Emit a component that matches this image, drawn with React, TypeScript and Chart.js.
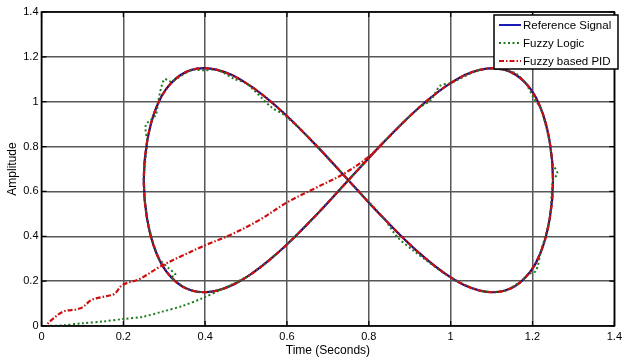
import React, { useEffect, useRef } from 'react';
import { Chart, registerables } from 'chart.js';

Chart.register(...registerables);

const seriesLabels = ['Reference Signal', 'Fuzzy Logic', 'Fuzzy based PID'];
const seriesColors = ['#0c0c8c', '#1d7a1d', '#cc1010'];
const xTickLabels = ['0', '0.2', '0.4', '0.6', '0.8', '1', '1.2', '1.4'];
const yTickLabels = ['0', '0.2', '0.4', '0.6', '0.8', '1', '1.2', '1.4'];
const xTitle = 'Time (Seconds)';
const yTitle = 'Amplitude';

// Reference signal (figure-eight)
const refX = [0.75, 0.837, 0.921, 1.0, 1.071, 1.133, 1.183, 1.22, 1.242, 1.25, 1.242, 1.22, 1.183, 1.133, 1.071, 1.0, 0.921, 0.837, 0.75, 0.663, 0.579, 0.5, 0.429, 0.367, 0.317, 0.28, 0.258, 0.25, 0.258, 0.28, 0.317, 0.367, 0.429, 0.5, 0.579, 0.663, 0.75];
const refY = [0.65, 0.821, 0.971, 1.083, 1.142, 1.142, 1.083, 0.971, 0.821, 0.65, 0.479, 0.329, 0.217, 0.158, 0.158, 0.217, 0.329, 0.479, 0.65, 0.821, 0.971, 1.083, 1.142, 1.142, 1.083, 0.971, 0.821, 0.65, 0.479, 0.329, 0.217, 0.158, 0.158, 0.217, 0.329, 0.479, 0.65];

// Fuzzy Logic response
const fuzzyX = [0, 0.01, 0.053, 0.1, 0.15, 0.198, 0.247, 0.295, 0.344, 0.392, 0.44, 0.5, 0.579, 0.663, 0.75, 0.837, 0.921, 0.95, 0.975, 1.0, 1.071, 1.133, 1.16, 1.183, 1.205, 1.22, 1.242, 1.249, 1.261, 1.25, 1.242, 1.22, 1.208, 1.19, 1.183, 1.133, 1.071, 1.0, 0.91, 0.869, 0.837, 0.75, 0.663, 0.594, 0.562, 0.5, 0.473, 0.429, 0.396, 0.367, 0.317, 0.3, 0.285, 0.279, 0.255, 0.258, 0.25, 0.258, 0.28, 0.287, 0.311, 0.328, 0.317, 0.367, 0.429, 0.5];
const fuzzyY = [0, 0, 0.003, 0.012, 0.02, 0.031, 0.041, 0.064, 0.089, 0.123, 0.163, 0.217, 0.329, 0.479, 0.65, 0.821, 0.971, 1.005, 1.072, 1.083, 1.142, 1.142, 1.125, 1.083, 1.01, 0.971, 0.821, 0.725, 0.68, 0.65, 0.479, 0.329, 0.245, 0.232, 0.217, 0.158, 0.158, 0.217, 0.335, 0.398, 0.479, 0.65, 0.821, 0.94, 0.975, 1.083, 1.1, 1.142, 1.14, 1.142, 1.09, 1.1, 1.0, 0.94, 0.896, 0.821, 0.65, 0.479, 0.329, 0.3, 0.257, 0.227, 0.217, 0.158, 0.158, 0.217];

// Fuzzy based PID response
const pidX = [0, 0.01, 0.02, 0.053, 0.085, 0.1, 0.122, 0.15, 0.178, 0.198, 0.24, 0.29, 0.34, 0.4, 0.46, 0.53, 0.603, 0.675, 0.74, 0.8, 0.837, 0.921, 1.0, 1.071, 1.133, 1.183, 1.22, 1.242, 1.25, 1.242, 1.22, 1.183, 1.133, 1.071, 1.0, 0.921, 0.837, 0.75, 0.663, 0.579, 0.5, 0.429, 0.367, 0.317, 0.28, 0.258, 0.25, 0.258, 0.28, 0.317, 0.367, 0.429, 0.5, 0.579, 0.663, 0.75, 0.837];
const pidY = [0, 0, 0.02, 0.064, 0.074, 0.083, 0.116, 0.13, 0.143, 0.183, 0.21, 0.265, 0.31, 0.36, 0.405, 0.47, 0.554, 0.62, 0.68, 0.755, 0.821, 0.971, 1.083, 1.142, 1.142, 1.083, 0.971, 0.821, 0.65, 0.479, 0.329, 0.217, 0.158, 0.158, 0.217, 0.329, 0.479, 0.65, 0.821, 0.971, 1.083, 1.142, 1.142, 1.083, 0.971, 0.821, 0.65, 0.479, 0.329, 0.217, 0.158, 0.158, 0.217, 0.329, 0.479, 0.65, 0.821];

const FONT = "'Liberation Sans', Arial, sans-serif";
const pidDash = [5, 2, 1.5, 2];
const fuzzyDash = [2, 2.5];

const toPoints = (xs: number[], ys: number[]) => xs.map((x, i) => ({ x, y: ys[i] }));

const framePlugin = {
  id: 'matlabFrame',
  afterDraw(chart: any) {
    const { ctx, chartArea } = chart;
    const { left, right, top, bottom } = chartArea;
    const xs = chart.scales.x;
    const ys = chart.scales.y;
    ctx.save();
    ctx.strokeStyle = '#000';
    ctx.lineWidth = 1.2;
    ctx.beginPath();
    xs.ticks.forEach((t: any) => {
      const px = xs.getPixelForValue(t.value);
      ctx.moveTo(px, bottom);
      ctx.lineTo(px, bottom - 5);
      ctx.moveTo(px, top);
      ctx.lineTo(px, top + 5);
    });
    ys.ticks.forEach((t: any) => {
      const py = ys.getPixelForValue(t.value);
      ctx.moveTo(left, py);
      ctx.lineTo(left + 5, py);
      ctx.moveTo(right, py);
      ctx.lineTo(right - 5, py);
    });
    ctx.stroke();
    ctx.lineWidth = 1.6;
    ctx.strokeRect(left, top, right - left, bottom - top);

    // legend box
    const bx = 494, by = 15, bw = 124, bh = 54;
    ctx.fillStyle = '#fff';
    ctx.fillRect(bx, by, bw, bh);
    ctx.lineWidth = 1.5;
    ctx.strokeStyle = '#000';
    ctx.strokeRect(bx, by, bw, bh);
    const dashes = [[], fuzzyDash, pidDash];
    seriesLabels.forEach((lab, i) => {
      const yy = by + 10 + i * 18;
      ctx.beginPath();
      ctx.setLineDash(dashes[i]);
      ctx.strokeStyle = i === 0 ? '#1a1ab4' : seriesColors[i];
      ctx.lineWidth = 2;
      ctx.moveTo(499, yy);
      ctx.lineTo(521, yy);
      ctx.stroke();
      ctx.setLineDash([]);
      ctx.fillStyle = '#000';
      ctx.font = `11.5px ${FONT}`;
      ctx.textBaseline = 'middle';
      ctx.textAlign = 'left';
      ctx.fillText(lab, 523, yy + 0.5);
    });
    ctx.restore();
  },
};

export default function App() {
  const ref = useRef<HTMLCanvasElement | null>(null);
  useEffect(() => {
    document.body.style.margin = '0';
    const canvas = ref.current!;
    const chart = new Chart(canvas, {
      type: 'scatter',
      data: {
        datasets: [
          {
            label: seriesLabels[2],
            data: toPoints(pidX, pidY),
            showLine: true,
            borderColor: seriesColors[2],
            borderWidth: 2.2,
            borderDash: pidDash,
            pointRadius: 0,
            tension: 0.35,
            order: 0,
          },
          {
            label: seriesLabels[1],
            data: toPoints(fuzzyX, fuzzyY),
            showLine: true,
            borderColor: seriesColors[1],
            borderWidth: 2,
            borderDash: fuzzyDash,
            pointRadius: 0,
            tension: 0.3,
            order: 1,
          },
          {
            label: seriesLabels[0],
            data: toPoints(refX, refY),
            showLine: true,
            borderColor: seriesColors[0],
            borderWidth: 2.2,
            pointRadius: 0,
            tension: 0.4,
            order: 2,
          },
        ],
      },
      options: {
        responsive: false,
        animation: false,
        devicePixelRatio: 1,
        layout: { padding: { left: 0, right: 7, top: 12, bottom: 0 } },
        plugins: {
          legend: { display: false },
          tooltip: { enabled: false },
        },
        scales: {
          x: {
            type: 'linear',
            min: 0,
            max: 1.4,
            afterFit: (s: any) => { s.height = 37; },
            ticks: {
              stepSize: 0.2,
              autoSkip: false,
              maxRotation: 0,
              padding: 4,
              color: '#000',
              font: { family: FONT, size: 11 },
              callback: (_v: any, i: number) => xTickLabels[i],
            },
            grid: { color: '#575757', lineWidth: 1.5, drawTicks: false },
            border: { display: false },
            title: {
              display: true,
              text: xTitle,
              color: '#000',
              font: { family: FONT, size: 12 },
              padding: { top: 0, bottom: 5 },
            },
          },
          y: {
            type: 'linear',
            min: 0,
            max: 1.4,
            afterFit: (s: any) => { s.width = 41.5; },
            ticks: {
              stepSize: 0.2,
              autoSkip: false,
              padding: 3,
              color: '#000',
              font: { family: FONT, size: 11 },
              callback: (_v: any, i: number) => yTickLabels[i],
            },
            grid: { color: '#575757', lineWidth: 1.5, drawTicks: false },
            border: { display: false },
            title: {
              display: true,
              text: yTitle,
              color: '#000',
              font: { family: FONT, size: 12 },
              padding: { top: 5, bottom: 0 },
            },
          },
        },
      },
      plugins: [framePlugin],
    });
    return () => chart.destroy();
  }, []);
  return (
    <div style={{ width: 626, height: 363, background: '#fff' }}>
      <canvas ref={ref} width={626} height={363} style={{ display: 'block' }} />
    </div>
  );
}
